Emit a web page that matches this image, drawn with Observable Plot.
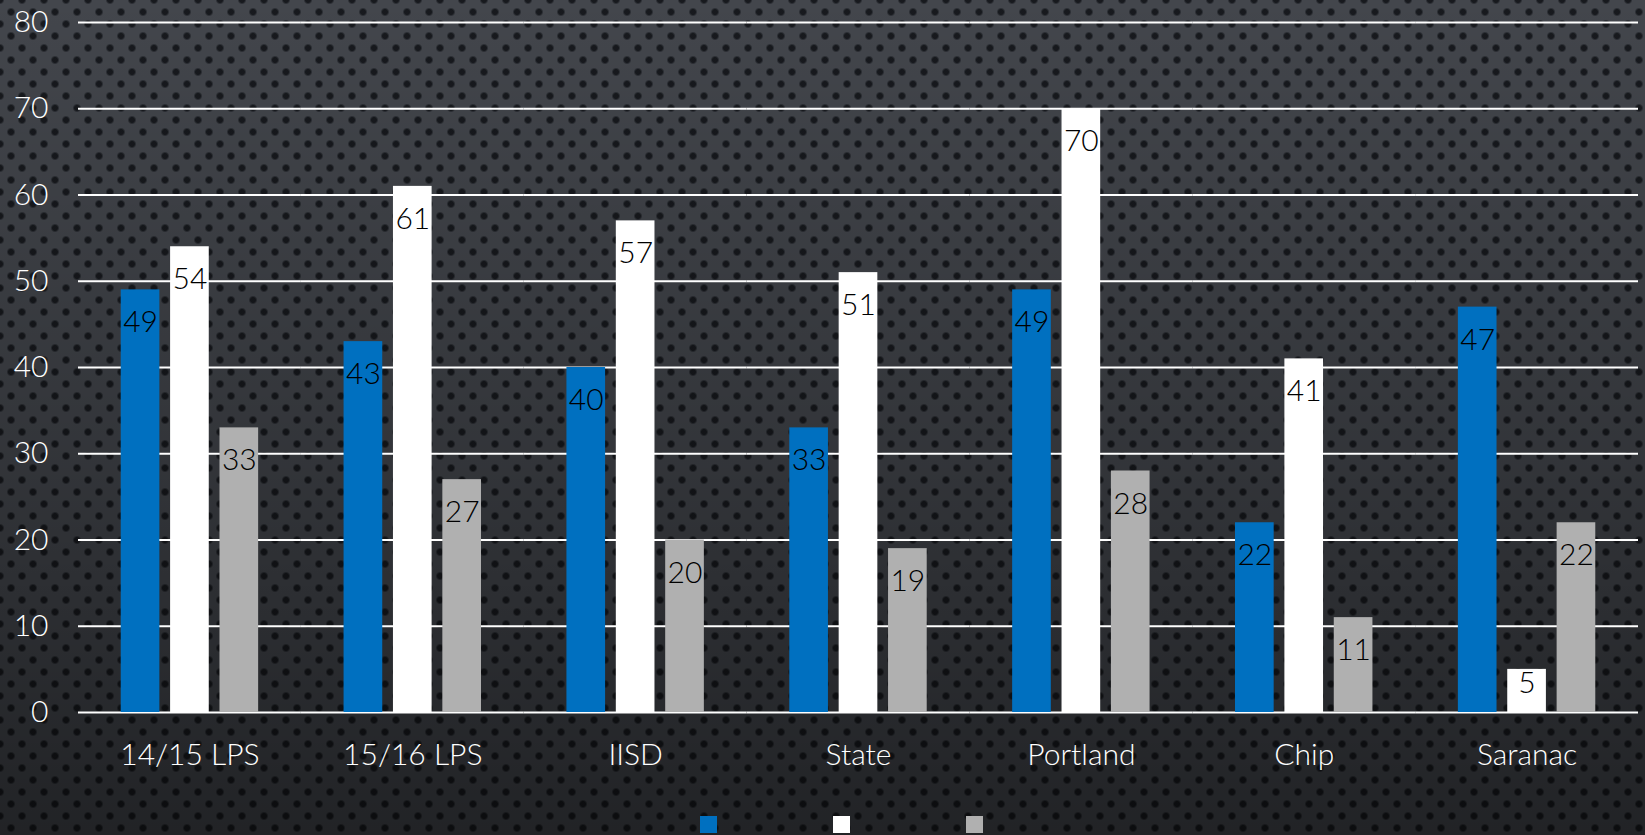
<!DOCTYPE html>
<html>
<head>
<meta charset="utf-8">
<script src="https://cdn.jsdelivr.net/npm/d3@7"></script>
<script src="https://cdn.jsdelivr.net/npm/@observablehq/plot@0.6"></script>
<style>
  html, body { margin: 0; padding: 0; width: 1645px; height: 835px; overflow: hidden; }
  body {
    background:
      linear-gradient(to bottom, rgba(0,0,0,0) 0%, rgba(0,0,0,0.25) 55%, rgba(0,0,0,0.5) 100%),
      radial-gradient(circle, rgba(16,18,22,0.85) 2.5px, rgba(16,18,22,0) 4.5px) 0 0 / 22px 24px,
      radial-gradient(circle, rgba(16,18,22,0.85) 2.5px, rgba(16,18,22,0) 4.5px) 11px 12px / 22px 24px,
      #43464c;
    font-family: Lato, "Open Sans", sans-serif;
  }
  #chart svg { display: block; }
  #legend { display: flex; margin-left: 700px; margin-top: 26px; }
  .item { display: flex; align-items: center; width: 133px; }
  .sw { width: 17px; height: 17px; }
  .lab { color: white; font-size: 20px; margin-left: 6px; }
</style>
</head>
<body>
<div id="chart"></div>
<div id="legend"></div>
<script>
const categories = ["14/15 LPS", "15/16 LPS", "IISD", "State", "Portland", "Chip", "Saranac"];
const seriesNames = ["Series 1", "Series 2", "Series 3"];
const series1 = [49, 43, 40, 33, 49, 22, 47];
const series2 = [54, 61, 57, 51, 70, 41, 5];
const series3 = [33, 27, 20, 19, 28, 11, 22];
const seriesColors = ["#0070C0", "#FFFFFF", "#B0B0B0"];
const yTicks = [0, 10, 20, 30, 40, 50, 60, 70, 80];

const allSeries = [series1, series2, series3];
const data = categories.flatMap((c, i) =>
  seriesNames.map((s, j) => ({cat: c, series: s, value: allSeries[j][i]}))
);

const chart = Plot.plot({
  width: 1645,
  height: 790,
  marginLeft: 78,
  marginRight: 7,
  marginTop: 22,
  marginBottom: 78,
  style: {background: "transparent", fontFamily: "Lato, 'Open Sans', sans-serif", fontSize: "30px", color: "white", fontWeight: 300},
  fx: {domain: categories, padding: 0, round: false, label: null, tickSize: 0, tickPadding: 31, axis: "bottom"},
  x: {domain: seriesNames, paddingInner: 0.217, paddingOuter: 0.865, round: false, axis: null},
  y: {domain: [0, 80], label: null, axis: null},
  color: {domain: seriesNames, range: seriesColors},
  marks: [
    Plot.gridY(yTicks, {stroke: "white", strokeOpacity: 1, strokeWidth: 2}),
    Plot.axisY(yTicks, {tickSize: 0, tickPadding: 30, label: null, fill: "white", fontSize: 30}),
    Plot.barY(data, {fx: "cat", x: "series", y: "value", fill: "series"}),
    Plot.text(data, {filter: d => d.value >= 8, fx: "cat", x: "series", y: "value", text: "value", dy: 33, fill: "black", fontSize: 30}),
    Plot.text(data, {filter: d => d.value < 8, fx: "cat", x: "series", y: "value", text: "value", dy: 14, fill: "black", fontSize: 30})
  ]
});
document.getElementById("chart").appendChild(chart);

const legend = document.getElementById("legend");
seriesNames.forEach((s, j) => {
  const item = document.createElement("div");
  item.className = "item";
  const sw = document.createElement("div");
  sw.className = "sw";
  sw.style.background = seriesColors[j];
  item.appendChild(sw);
  const lab = document.createElement("span");
  lab.className = "lab";
  lab.textContent = "";
  item.appendChild(lab);
  legend.appendChild(item);
});
</script>
</body>
</html>
